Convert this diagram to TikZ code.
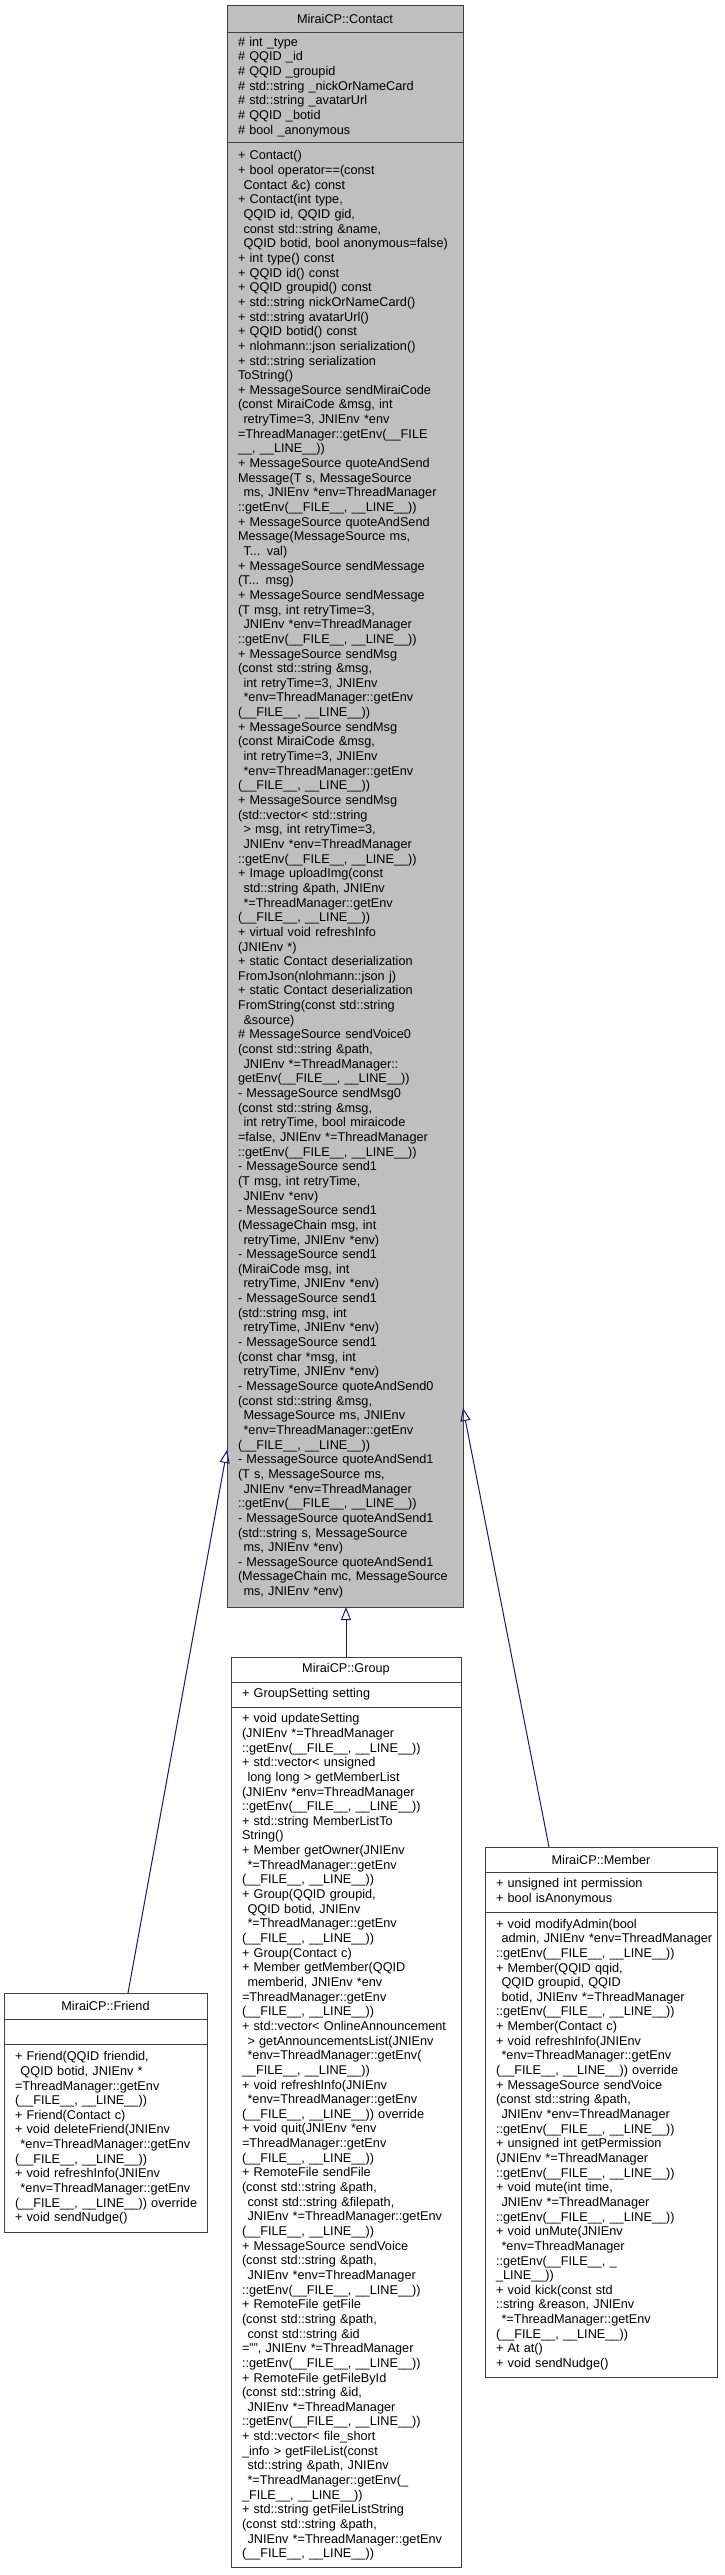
\documentclass[tikz,border=0pt]{standalone}
\usepackage{fontspec}
\setmainfont{Liberation Sans}
\usepackage{xcolor}
\usepackage{tikz}
\usetikzlibrary{positioning, arrows.meta}
\definecolor{boxline}{HTML}{404040}
\definecolor{focusgray}{HTML}{BFBFBF}
\definecolor{edgeblue}{HTML}{191970}
\newcommand\umlfont{\fontsize{12.7}{14.65}\selectfont}
\newcommand\indt{\hspace*{5.5pt}}

\begin{document}
\begin{tikzpicture}[
    x=1pt, y=-1pt,
    classtitle/.style={
        draw=boxline,
        line width=1pt,
        outer sep=0pt,
        inner sep=0pt,
        align=center,
        font=\umlfont
    },
    classbody/.style={
        draw=boxline,
        line width=1pt,
        outer sep=0pt,
        inner xsep=0pt,
        inner ysep=0pt,
        text width=#1,
        font=\umlfont,
        execute at begin node={\leftskip=11pt\rightskip=-40pt plus 1fil\relax}
    },
    inherit/.style={
        draw=edgeblue,
        line width=1pt,
        -{Triangle[open, length=13pt, width=10pt]}
    }
]
\useasboundingbox (0,0) rectangle (724,2575);

% Base class
\node (contact) [classtitle, fill=focusgray, minimum width=236pt, minimum height=27pt, anchor=north west] at (227,5) {MiraiCP::Contact};
\node (contactAttr) [classbody=236pt, fill=focusgray, minimum height=110pt, below=0pt of contact] {%
\# int \_type\\
\# QQID \_id\\
\# QQID \_groupid\\
\# std::string \_nickOrNameCard\\
\# std::string \_avatarUrl\\
\# QQID \_botid\\
\# bool \_anonymous};
\node (contactOps) [classbody=236pt, fill=focusgray, minimum height=1465pt, below=0pt of contactAttr] {%
+ Contact()\\
+ bool operator==(const\\
\indt Contact \&c) const\\
+ Contact(int type,\\
\indt QQID id, QQID gid,\\
\indt const std::string \&name,\\
\indt QQID botid, bool anonymous=false)\\
+ int type() const\\
+ QQID id() const\\
+ QQID groupid() const\\
+ std::string nickOrNameCard()\\
+ std::string avatarUrl()\\
+ QQID botid() const\\
+ nlohmann::json serialization()\\
+ std::string serialization\\
ToString()\\
+ MessageSource sendMiraiCode\\
(const MiraiCode \&msg, int\\
\indt retryTime=3, JNIEnv *env\\
=ThreadManager::getEnv(\_\_FILE\\
\_\_, \_\_LINE\_\_))\\
+ MessageSource quoteAndSend\\
Message(T s, MessageSource\\
\indt ms, JNIEnv *env=ThreadManager\\
::getEnv(\_\_FILE\_\_, \_\_LINE\_\_))\\
+ MessageSource quoteAndSend\\
Message(MessageSource ms,\\
\indt T... val)\\
+ MessageSource sendMessage\\
(T... msg)\\
+ MessageSource sendMessage\\
(T msg, int retryTime=3,\\
\indt JNIEnv *env=ThreadManager\\
::getEnv(\_\_FILE\_\_, \_\_LINE\_\_))\\
+ MessageSource sendMsg\\
(const std::string \&msg,\\
\indt int retryTime=3, JNIEnv\\
\indt *env=ThreadManager::getEnv\\
(\_\_FILE\_\_, \_\_LINE\_\_))\\
+ MessageSource sendMsg\\
(const MiraiCode \&msg,\\
\indt int retryTime=3, JNIEnv\\
\indt *env=ThreadManager::getEnv\\
(\_\_FILE\_\_, \_\_LINE\_\_))\\
+ MessageSource sendMsg\\
(std::vector< std::string\\
\indt > msg, int retryTime=3,\\
\indt JNIEnv *env=ThreadManager\\
::getEnv(\_\_FILE\_\_, \_\_LINE\_\_))\\
+ Image uploadImg(const\\
\indt std::string \&path, JNIEnv\\
\indt *=ThreadManager::getEnv\\
(\_\_FILE\_\_, \_\_LINE\_\_))\\
+ virtual void refreshInfo\\
(JNIEnv *)\\
+ static Contact deserialization\\
FromJson(nlohmann::json j)\\
+ static Contact deserialization\\
FromString(const std::string\\
\indt \&source)\\
\# MessageSource sendVoice0\\
(const std::string \&path,\\
\indt JNIEnv *=ThreadManager::\\
getEnv(\_\_FILE\_\_, \_\_LINE\_\_))\\
- MessageSource sendMsg0\\
(const std::string \&msg,\\
\indt int retryTime, bool miraicode\\
=false, JNIEnv *=ThreadManager\\
::getEnv(\_\_FILE\_\_, \_\_LINE\_\_))\\
- MessageSource send1\\
(T msg, int retryTime,\\
\indt JNIEnv *env)\\
- MessageSource send1\\
(MessageChain msg, int\\
\indt retryTime, JNIEnv *env)\\
- MessageSource send1\\
(MiraiCode msg, int\\
\indt retryTime, JNIEnv *env)\\
- MessageSource send1\\
(std::string msg, int\\
\indt retryTime, JNIEnv *env)\\
- MessageSource send1\\
(const char *msg, int\\
\indt retryTime, JNIEnv *env)\\
- MessageSource quoteAndSend0\\
(const std::string \&msg,\\
\indt MessageSource ms, JNIEnv\\
\indt *env=ThreadManager::getEnv\\
(\_\_FILE\_\_, \_\_LINE\_\_))\\
- MessageSource quoteAndSend1\\
(T s, MessageSource ms,\\
\indt JNIEnv *env=ThreadManager\\
::getEnv(\_\_FILE\_\_, \_\_LINE\_\_))\\
- MessageSource quoteAndSend1\\
(std::string s, MessageSource\\
\indt ms, JNIEnv *env)\\
- MessageSource quoteAndSend1\\
(MessageChain mc, MessageSource\\
\indt ms, JNIEnv *env)};

% Derived classes
\node (friend) [classtitle, fill=white, minimum width=203pt, minimum height=26pt, anchor=north west] at (4,1993) {MiraiCP::Friend};
\node (friendAttr) [classbody=203pt, fill=white, minimum height=25pt, below=0pt of friend] {};
\node (friendOps) [classbody=203pt, fill=white, minimum height=188pt, below=0pt of friendAttr] {%
+ Friend(QQID friendid,\\
\indt QQID botid, JNIEnv *\\
=ThreadManager::getEnv\\
(\_\_FILE\_\_, \_\_LINE\_\_))\\
+ Friend(Contact c)\\
+ void deleteFriend(JNIEnv\\
\indt *env=ThreadManager::getEnv\\
(\_\_FILE\_\_, \_\_LINE\_\_))\\
+ void refreshInfo(JNIEnv\\
\indt *env=ThreadManager::getEnv\\
(\_\_FILE\_\_, \_\_LINE\_\_)) override\\
+ void sendNudge()};

\node (group) [classtitle, fill=white, minimum width=230pt, minimum height=25pt, anchor=north west] at (231,1657) {MiraiCP::Group};
\node (groupAttr) [classbody=230pt, fill=white, minimum height=25pt, below=0pt of group] {%
+ GroupSetting setting};
\node (groupOps) [classbody=230pt, fill=white, minimum height=860pt, below=0pt of groupAttr] {%
+ void updateSetting\\
(JNIEnv *=ThreadManager\\
::getEnv(\_\_FILE\_\_, \_\_LINE\_\_))\\
+ std::vector< unsigned\\
\indt long long > getMemberList\\
(JNIEnv *env=ThreadManager\\
::getEnv(\_\_FILE\_\_, \_\_LINE\_\_))\\
+ std::string MemberListTo\\
String()\\
+ Member getOwner(JNIEnv\\
\indt *=ThreadManager::getEnv\\
(\_\_FILE\_\_, \_\_LINE\_\_))\\
+ Group(QQID groupid,\\
\indt QQID botid, JNIEnv\\
\indt *=ThreadManager::getEnv\\
(\_\_FILE\_\_, \_\_LINE\_\_))\\
+ Group(Contact c)\\
+ Member getMember(QQID\\
\indt memberid, JNIEnv *env\\
=ThreadManager::getEnv\\
(\_\_FILE\_\_, \_\_LINE\_\_))\\
+ std::vector< OnlineAnnouncement\\
\indt > getAnnouncementsList(JNIEnv\\
\indt *env=ThreadManager::getEnv(\\
\_\_FILE\_\_, \_\_LINE\_\_))\\
+ void refreshInfo(JNIEnv\\
\indt *env=ThreadManager::getEnv\\
(\_\_FILE\_\_, \_\_LINE\_\_)) override\\
+ void quit(JNIEnv *env\\
=ThreadManager::getEnv\\
(\_\_FILE\_\_, \_\_LINE\_\_))\\
+ RemoteFile sendFile\\
(const std::string \&path,\\
\indt const std::string \&filepath,\\
\indt JNIEnv *=ThreadManager::getEnv\\
(\_\_FILE\_\_, \_\_LINE\_\_))\\
+ MessageSource sendVoice\\
(const std::string \&path,\\
\indt JNIEnv *env=ThreadManager\\
::getEnv(\_\_FILE\_\_, \_\_LINE\_\_))\\
+ RemoteFile getFile\\
(const std::string \&path,\\
\indt const std::string \&id\\
="", JNIEnv *=ThreadManager\\
::getEnv(\_\_FILE\_\_, \_\_LINE\_\_))\\
+ RemoteFile getFileById\\
(const std::string \&id,\\
\indt JNIEnv *=ThreadManager\\
::getEnv(\_\_FILE\_\_, \_\_LINE\_\_))\\
+ std::vector< file\_short\\
\_info > getFileList(const\\
\indt std::string \&path, JNIEnv\\
\indt *=ThreadManager::getEnv(\_\\
\_FILE\_\_, \_\_LINE\_\_))\\
+ std::string getFileListString\\
(const std::string \&path,\\
\indt JNIEnv *=ThreadManager::getEnv\\
(\_\_FILE\_\_, \_\_LINE\_\_))};

\node (member) [classtitle, fill=white, minimum width=232pt, minimum height=25pt, anchor=north west] at (485,1847) {MiraiCP::Member};
\node (memberAttr) [classbody=232pt, fill=white, minimum height=40pt, below=0pt of member] {%
+ unsigned int permission\\
+ bool isAnonymous};
\node (memberOps) [classbody=232pt, fill=white, minimum height=465pt, below=0pt of memberAttr] {%
+ void modifyAdmin(bool\\
\indt admin, JNIEnv *env=ThreadManager\\
::getEnv(\_\_FILE\_\_, \_\_LINE\_\_))\\
+ Member(QQID qqid,\\
\indt QQID groupid, QQID\\
\indt botid, JNIEnv *=ThreadManager\\
::getEnv(\_\_FILE\_\_, \_\_LINE\_\_))\\
+ Member(Contact c)\\
+ void refreshInfo(JNIEnv\\
\indt *env=ThreadManager::getEnv\\
(\_\_FILE\_\_, \_\_LINE\_\_)) override\\
+ MessageSource sendVoice\\
(const std::string \&path,\\
\indt JNIEnv *env=ThreadManager\\
::getEnv(\_\_FILE\_\_, \_\_LINE\_\_))\\
+ unsigned int getPermission\\
(JNIEnv *=ThreadManager\\
::getEnv(\_\_FILE\_\_, \_\_LINE\_\_))\\
+ void mute(int time,\\
\indt JNIEnv *=ThreadManager\\
::getEnv(\_\_FILE\_\_, \_\_LINE\_\_))\\
+ void unMute(JNIEnv\\
\indt *env=ThreadManager\\
::getEnv(\_\_FILE\_\_, \_\\
\_LINE\_\_))\\
+ void kick(const std\\
::string \&reason, JNIEnv\\
\indt *=ThreadManager::getEnv\\
(\_\_FILE\_\_, \_\_LINE\_\_))\\
+ At at()\\
+ void sendNudge()};

% Inheritance edges
\draw [inherit] ([xshift=22.5pt]friend.north) -- ([yshift=-575.5pt]contactOps.west);
\draw [inherit] (group.north) -- (group.north |- contactOps.south);
\draw [inherit] ([xshift=-52pt]member.north) -- ([yshift=-533.5pt]contactOps.east);

\end{tikzpicture}
\end{document}
